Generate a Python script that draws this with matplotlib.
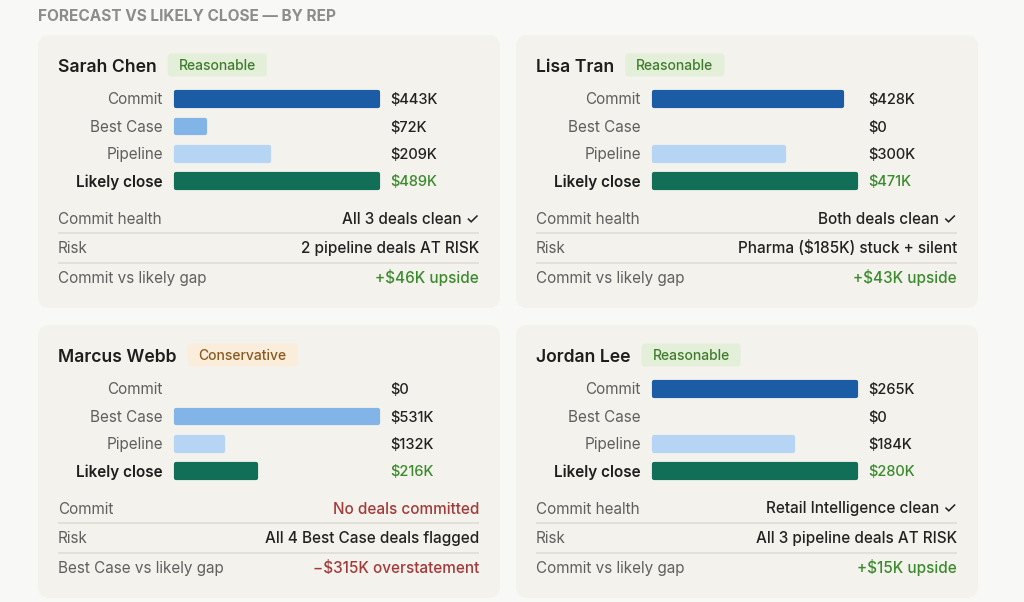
import matplotlib
matplotlib.use("Agg")
import matplotlib.pyplot as plt
import numpy as np
from matplotlib.patches import FancyBboxPatch

plt.rcParams["font.family"] = ["Inter", "DejaVu Sans"]

# ---- data -------------------------------------------------------------
REPS = ["Sarah Chen", "Lisa Tran", "Marcus Webb", "Jordan Lee"]
BADGES = ["Reasonable", "Reasonable", "Conservative", "Reasonable"]
ROW_LABELS = ["Commit", "Best Case", "Pipeline", "Likely close"]
COMMIT = [443, 428, 0, 265]
BEST_CASE = [72, 0, 531, 0]
PIPELINE = [209, 300, 132, 184]
LIKELY = [489, 471, 216, 280]
SCALE_MAX = [443, 460, 531, 265]

STAT_LABELS = [
    ["Commit health", "Risk", "Commit vs likely gap"],
    ["Commit health", "Risk", "Commit vs likely gap"],
    ["Commit", "Risk", "Best Case vs likely gap"],
    ["Commit health", "Risk", "Commit vs likely gap"],
]
STAT_VALUES = [
    ["All 3 deals clean \u2713", "2 pipeline deals AT RISK", "+$46K upside"],
    ["Both deals clean \u2713", "Pharma ($185K) stuck + silent", "+$43K upside"],
    ["No deals committed", "All 4 Best Case deals flagged", "\u2212$315K overstatement"],
    ["Retail Intelligence clean \u2713", "All 3 pipeline deals AT RISK", "+$15K upside"],
]
STAT_TONES = [
    ["dark", "dark", "good"],
    ["dark", "dark", "good"],
    ["bad", "dark", "bad"],
    ["dark", "dark", "good"],
]

# ---- style ------------------------------------------------------------
FIG_BG = "#f8f8f6"
CARD_BG = "#f3f2ec"
BAR_COLORS = ["#1b5ca4", "#82b4e8", "#b6d5f4", "#116e57"]
TONE_COLORS = {"dark": "#222222", "good": "#3c8a2e", "bad": "#a23a3a"}
BADGE_STYLE = {
    "Reasonable": ("#e4efda", "#3f7d2c"),
    "Conservative": ("#fbeddb", "#8a5a1e"),
}
CARD_X = [38, 516]
CARD_Y = [35, 325]
CARD_W, CARD_H = 462, 273
BAR_W = 206
ROW_STEP = 27.4
FS = 11


def fmt_k(v):
    return "$0" if v == 0 else f"${v}K"


def label(x, y, s, size, **kw):
    # place text by its baseline so descenders don't shift rows
    return bg.text(x, y + 0.36 * size * 100 / 72, s, fontsize=size,
                   va="baseline", **kw)


fig = plt.figure(figsize=(10.24, 6.02), dpi=100, facecolor=FIG_BG)
bg = fig.add_axes([0, 0, 1, 1])
bg.set_xlim(0, 1024)
bg.set_ylim(602, 0)
bg.axis("off")

label(38, 15, "FORECAST VS LIKELY CLOSE \u2014 BY REP", 11.1,
      weight="bold", color="#8c8c8a", ha="left")

name_texts = []
for i, rep in enumerate(REPS):
    cx = CARD_X[i % 2]
    cy = CARD_Y[i // 2]
    bg.add_patch(FancyBboxPatch((cx, cy), CARD_W, CARD_H,
                                boxstyle="round,pad=0,rounding_size=12",
                                fc=CARD_BG, ec="none"))
    t = label(cx + 20, cy + 31, rep, 12.7, weight="semibold",
              color="#1e1e1e", ha="left")
    name_texts.append((t, cx, cy))

    # bars
    vals = np.array([COMMIT[i], BEST_CASE[i], PIPELINE[i], LIKELY[i]], dtype=float)
    top = cy + 64 - ROW_STEP / 2
    ax = fig.add_axes([(cx + 136) / 1024, 1 - (top + 4 * ROW_STEP) / 602,
                       BAR_W / 1024, 4 * ROW_STEP / 602])
    ax.set_xlim(0, SCALE_MAX[i])
    ax.set_ylim(3.5, -0.5)
    ax.axis("off")
    unit = SCALE_MAX[i] / BAR_W
    shown = np.minimum(vals, SCALE_MAX[i])
    rows = np.arange(len(vals))
    mask = shown > 0
    bars = ax.barh(rows[mask], shown[mask] - 4 * unit, left=2 * unit, height=0.5,
                   color=[BAR_COLORS[k] for k in rows[mask]],
                   edgecolor=[BAR_COLORS[k] for k in rows[mask]],
                   linewidth=3)
    for b in bars:
        b.set_joinstyle("round")
        b.set_clip_on(False)

    for k, lab in enumerate(ROW_LABELS):
        y = cy + 64 + k * ROW_STEP
        last = k == len(ROW_LABELS) - 1
        label(cx + 125, y, lab, FS, ha="right",
              color="#1e1e1e" if last else "#5f5f5f",
              weight="semibold" if last else "normal")
        label(cx + 352, y, fmt_k(int(vals[k])), 10.5, ha="left",
              weight="medium",
              color=TONE_COLORS["good"] if last else "#222222")

    # stats
    for k in range(3):
        y = cy + 183 + k * 29.5
        label(cx + 20, y, STAT_LABELS[i][k], FS, color="#606060", ha="left")
        label(cx + 441, y, STAT_VALUES[i][k], FS, weight="medium",
              color=TONE_COLORS[STAT_TONES[i][k]], ha="right")
        if k < 2:
            bg.plot([cx + 20, cx + 441], [y + 15, y + 15], color="#dddbd4",
                    lw=1.1, solid_capstyle="butt")

# badges placed after the measured name widths
fig.canvas.draw()
renderer = fig.canvas.get_renderer()
for i, (t, cx, cy) in enumerate(name_texts):
    ext = t.get_window_extent(renderer)
    x0 = ext.x1 + 11
    fc, tc = BADGE_STYLE[BADGES[i]]
    bt = label(x0 + 11, cy + 30, BADGES[i], 10, weight="medium",
               color=tc, ha="left", zorder=3)
    bext = bt.get_window_extent(renderer)
    bw = bext.width + 22
    bg.add_patch(FancyBboxPatch((x0, cy + 18.5), bw, 23,
                                boxstyle="round,pad=0,rounding_size=4",
                                fc=fc, ec="none", zorder=2))

fig.savefig("out.png", dpi=100, facecolor=FIG_BG)
